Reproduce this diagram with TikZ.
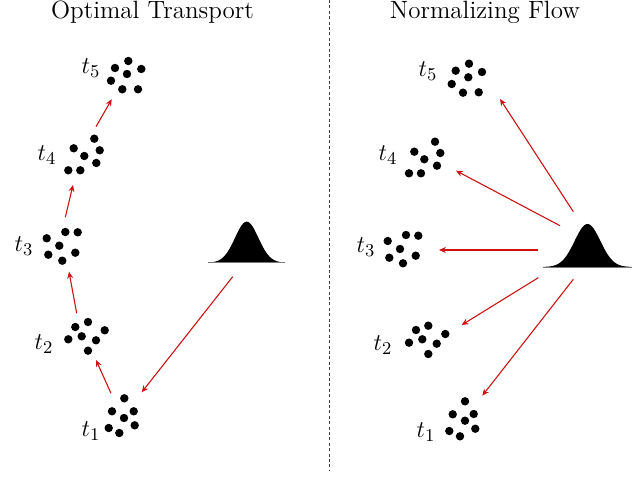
\documentclass[tikz,border=0pt]{standalone}
\usetikzlibrary{arrows.meta}
\definecolor{arrowred}{RGB}{204,20,20}
\definecolor{basegray}{RGB}{120,120,120}
\begin{document}
\begin{tikzpicture}[x=0.5pt,y=-0.5pt,
  font=\fontsize{12.5}{15}\selectfont,
  flow/.style={draw=arrowred, line width=0.55pt, -{Stealth[length=3.4pt,width=3pt]}},
  lbl/.style={inner sep=0pt},
  ttl/.style={inner sep=0pt, anchor=base},
  pdot/.style={fill=black},
  gauss/.style={fill=black},
  gbase/.style={draw=basegray, line width=0.5pt}]
\useasboundingbox (0,0) rectangle (640,490);

% titles
\node[ttl] (titleOT) at (152.5,19) {Optimal Transport};
\node[ttl] (titleNF) at (485,19) {Normalizing Flow};

% separator
\coordinate (sepTop) at (329,0);
\coordinate (sepBot) at (329,470);
\draw[black!75, line width=0.4pt, dash pattern=on 1.5pt off 1.2pt] (sepTop) -- (sepBot);

% ---------- left panel: point clouds ----------
\foreach \p in {(115,68),(128.3,61),(141.3,69),(127,74),(111,80.7),(122.3,89.3),(138,89.3)}
  \fill[pdot] \p circle (4.2);
\foreach \p in {(94.3,138.7),(73.7,148.3),(99.7,150.3),(84.3,156),(96.3,163),(68.3,170.3),(80.3,170.3)}
  \fill[pdot] \p circle (4.2);
\foreach \p in {(46.7,238.3),(65.3,232),(77.7,232.3),(59.3,245.7),(48.3,254.7),(75.3,252.7),(62.3,260.7)}
  \fill[pdot] \p circle (4.2);
\foreach \p in {(75.3,327),(88,322),(104.7,330.3),(68.3,339.3),(81.7,336.3),(96,340.3),(88,350.7)}
  \fill[pdot] \p circle (4.2);
\foreach \p in {(124.3,398.3),(112,411.3),(133.7,411.3),(124,418),(108.7,428),(119.3,433),(134.7,425.3)}
  \fill[pdot] \p circle (4.2);

\node[lbl] (Lt5) at (91,68) {$t_5$};
\node[lbl] (Lt4) at (47,155) {$t_4$};
\node[lbl] (Lt3) at (24,246) {$t_3$};
\node[lbl] (Lt2) at (44,344) {$t_2$};
\node[lbl] (Lt1) at (91,431) {$t_1$};

% left gaussian
\fill[gauss] plot[domain=208.3:285, samples=120, smooth] (\x,{262.7-41*exp(-((\x-246.7)*(\x-246.7))/274)}) -- cycle;
\coordinate (LgA) at (208.3,262.9);
\coordinate (LgB) at (285,262.9);
\draw[gbase] (LgA) -- (LgB);

% left arrows
\coordinate (La1s) at (111,393.3);   \coordinate (La1e) at (96,360);
\coordinate (La2s) at (76.7,313.3);  \coordinate (La2e) at (69,271.7);
\coordinate (La3s) at (65.3,217.3);  \coordinate (La3e) at (73,185);
\coordinate (La4s) at (96,126.7);    \coordinate (La4e) at (111.7,99.3);
\coordinate (Lgs)  at (232.7,276.7); \coordinate (Lge)  at (141.7,392.3);
\draw[flow] (La1s) -- (La1e);
\draw[flow] (La2s) -- (La2e);
\draw[flow] (La3s) -- (La3e);
\draw[flow] (La4s) -- (La4e);
\draw[flow] (Lgs) -- (Lge);

% ---------- right panel: point clouds ----------
\foreach \p in {(455.7,70.7),(469,63.7),(482,72),(468.3,77.3),(451.7,84),(463,92.7),(478.7,92.3)}
  \fill[pdot] \p circle (4.2);
\foreach \p in {(435,141.7),(414.3,151.7),(440.3,153),(424.3,159.3),(437,165.7),(409,173.3),(421,173.3)}
  \fill[pdot] \p circle (4.2);
\foreach \p in {(387.7,241),(406,235),(418.3,235.7),(400,249),(389.3,257.7),(415.7,255.7),(403,263.3)}
  \fill[pdot] \p circle (4.2);
\foreach \p in {(416,330),(428.3,325.7),(445.3,334),(409,342.7),(422.3,339.3),(436.7,343.7),(428.3,354)}
  \fill[pdot] \p circle (4.2);
\foreach \p in {(465,401.3),(452.7,414.3),(473.7,414),(465,420.7),(449.3,431),(460,436.3),(475.3,428.7)}
  \fill[pdot] \p circle (4.2);

\node[lbl] (Rt5) at (428,71) {$t_5$};
\node[lbl] (Rt4) at (388,155) {$t_4$};
\node[lbl] (Rt3) at (366,247) {$t_3$};
\node[lbl] (Rt2) at (383,345) {$t_2$};
\node[lbl] (Rt1) at (426,432) {$t_1$};

% right gaussian
\fill[gauss] plot[domain=542.7:631.7, samples=120, smooth] (\x,{267-43*exp(-((\x-587.5)*(\x-587.5))/330)}) -- cycle;
\coordinate (RgA) at (542.7,267.2);
\coordinate (RgB) at (631.7,267.2);
\draw[gbase] (RgA) -- (RgB);

% right arrows
\coordinate (Ra5s) at (573.3,211.7); \coordinate (Ra5e) at (500,99);
\coordinate (Ra4s) at (560,225.7);   \coordinate (Ra4e) at (456,170.7);
\coordinate (Ra3s) at (538.3,250);   \coordinate (Ra3e) at (439,250);
\coordinate (Ra2s) at (538.3,277.7); \coordinate (Ra2e) at (461.7,325);
\coordinate (Ra1s) at (573.3,279.3); \coordinate (Ra1e) at (482.3,395.7);
\draw[flow] (Ra5s) -- (Ra5e);
\draw[flow] (Ra4s) -- (Ra4e);
\draw[flow] (Ra3s) -- (Ra3e);
\draw[flow] (Ra2s) -- (Ra2e);
\draw[flow] (Ra1s) -- (Ra1e);
\end{tikzpicture}
\end{document}
